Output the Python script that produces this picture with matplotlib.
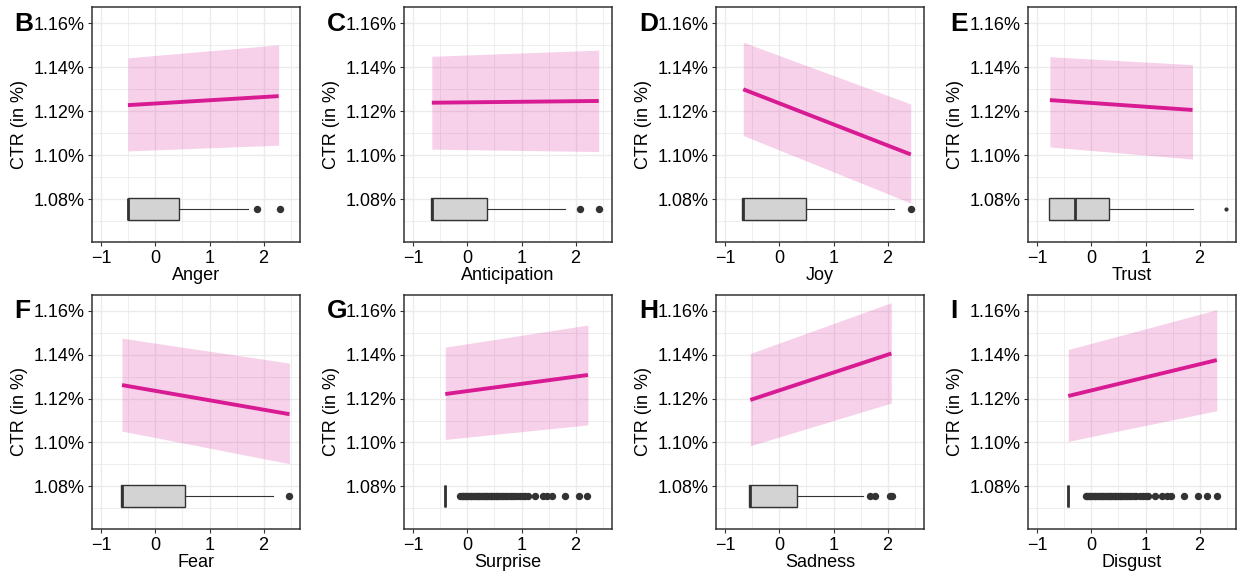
import matplotlib.pyplot as plt
from matplotlib.ticker import FuncFormatter, MultipleLocator

plt.rcParams['font.family'] = ['Liberation Sans', 'DejaVu Sans']

# panel letters and emotion names
letters = ["B", "C", "D", "E", "F", "G", "H", "I"]
emotions = ["Anger", "Anticipation", "Joy", "Trust", "Fear", "Surprise", "Sadness", "Disgust"]

# fitted line (CTR in %) at the two ends of each emotion's range
x_start = [-0.51, -0.66, -0.67, -0.77, -0.62, -0.41, -0.54, -0.43]
x_end = [2.28, 2.43, 2.43, 1.87, 2.48, 2.23, 2.07, 2.32]
fit_start = [1.1227, 1.1238, 1.1299, 1.1250, 1.1262, 1.1221, 1.1194, 1.1212]
fit_end = [1.1268, 1.1246, 1.1003, 1.1205, 1.1129, 1.1308, 1.1406, 1.1376]
ci_low_start = [1.1019, 1.1027, 1.1089, 1.1037, 1.1052, 1.1014, 1.0985, 1.1005]
ci_low_end = [1.1045, 1.1016, 1.0782, 1.0982, 1.0903, 1.1080, 1.1180, 1.1145]
ci_high_start = [1.1442, 1.1449, 1.1513, 1.1447, 1.1476, 1.1435, 1.1406, 1.1424]
ci_high_end = [1.1501, 1.1477, 1.1232, 1.1411, 1.1362, 1.1536, 1.1638, 1.1606]

# boxplot of each emotion score
whislo = [-0.51, -0.68, -0.70, -0.78, -0.64, -0.41, -0.56, -0.43]
q1 = [-0.51, -0.68, -0.70, -0.78, -0.64, -0.41, -0.56, -0.43]
med = [-0.51, -0.66, -0.67, -0.31, -0.62, -0.41, -0.55, -0.43]
q3 = [0.43, 0.37, 0.49, 0.33, 0.55, -0.41, 0.32, -0.43]
whishi = [1.72, 1.81, 2.12, 1.87, 2.17, -0.41, 1.54, -0.43]
fliers = [
    [1.88, 2.30],
    [2.09, 2.44],
    [2.43],
    [2.49],
    [2.48],
    [-0.14, -0.11, -0.08, -0.05, -0.02, 0.01, 0.04, 0.07, 0.10, 0.13, 0.16, 0.19,
     0.22, 0.25, 0.28, 0.31, 0.34, 0.37, 0.40, 0.43, 0.46, 0.49, 0.52, 0.55,
     0.58, 0.62, 0.66, 0.70, 0.74, 0.78, 0.82, 0.87, 0.92, 0.97, 1.02, 1.07,
     1.12, 1.25, 1.40, 1.48, 1.57, 1.80, 2.06, 2.22],
    [1.67, 1.77, 2.05, 2.09],
    [-0.11, -0.08, -0.05, -0.02, 0.01, 0.04, 0.07, 0.10, 0.13, 0.16, 0.19, 0.22,
     0.25, 0.28, 0.31, 0.34, 0.37, 0.40, 0.43, 0.46, 0.49, 0.52, 0.55, 0.58,
     0.62, 0.66, 0.70, 0.74, 0.78, 0.82, 0.90, 0.95, 1.00, 1.05, 1.18, 1.31,
     1.39, 1.47, 1.71, 1.97, 2.13, 2.32],
]
box_pos = 1.0755

pink = "#d81b93"
dark = "#333333"

fig = plt.figure(figsize=(12.41, 5.75), dpi=100)
W, H = 1241, 575
col_left = [92, 404, 716, 1028]
letter_x = [14, 327, 639, 950]
rows = [(7, 242), (295, 529)]
ax_w = 208

for i in range(8):
    r, c = divmod(i, 4)
    top, bot = rows[r]
    ax = fig.add_axes([col_left[c] / W, 1 - bot / H, ax_w / W, (bot - top) / H])

    ax.fill_between([x_start[i], x_end[i]], [ci_low_start[i], ci_low_end[i]],
                    [ci_high_start[i], ci_high_end[i]], color=pink, alpha=0.2,
                    linewidth=0, zorder=2)
    ax.plot([x_start[i], x_end[i]], [fit_start[i], fit_end[i]], color=pink,
            lw=2.8, solid_capstyle='butt', zorder=3)

    stats = [dict(whislo=whislo[i], q1=q1[i], med=med[i], q3=q3[i],
                  whishi=whishi[i], fliers=fliers[i])]
    ax.bxp(stats, positions=[box_pos], widths=0.01, orientation='horizontal',
           patch_artist=True, showcaps=False, manage_ticks=False,
           boxprops=dict(facecolor='#d3d3d3', edgecolor=dark, linewidth=1.0),
           medianprops=dict(color=dark, linewidth=2.0),
           whiskerprops=dict(color=dark, linewidth=0.8),
           flierprops=dict(marker='o', markerfacecolor=dark, markeredgecolor=dark,
                           markersize=4.3 if i != 3 else 2.0, linestyle='none'),
           zorder=3)

    ax.set_xlim(-1.175, 2.675)
    ax.set_ylim(1.0605, 1.1673)
    ax.xaxis.set_major_locator(MultipleLocator(1))
    ax.xaxis.set_minor_locator(MultipleLocator(0.5))
    ax.yaxis.set_major_locator(MultipleLocator(0.02))
    ax.yaxis.set_minor_locator(MultipleLocator(0.01))
    ax.yaxis.set_major_formatter(FuncFormatter(lambda v, p: f"{v:.2f}%"))
    ax.xaxis.set_major_formatter(FuncFormatter(lambda v, p: f"{v:.0f}".replace("-", "\u2212")))
    ax.grid(which='major', color='#ebebeb', lw=1.0, zorder=0)
    ax.grid(which='minor', color='#ebebeb', lw=0.6, zorder=0)
    ax.set_axisbelow(True)
    for s in ax.spines.values():
        s.set_color(dark)
        s.set_linewidth(1.1)
    ax.tick_params(which='major', length=3, width=0.8, color=dark, labelsize=13,
                   labelcolor='black', pad=2.5)
    ax.tick_params(which='minor', length=0)

    ax.set_xlabel(emotions[i], fontsize=13)
    ax.xaxis.set_label_coords(0.5, -0.105)
    ax.set_ylabel("CTR (in %)", fontsize=13)
    ax.yaxis.set_label_coords(-0.31, 0.5)

    fig.text(letter_x[c] / W, 1 - (31 + r * 287) / H, letters[i], fontsize=19,
             fontweight='bold', ha='left', va='baseline')

fig.savefig("out.png", dpi=100)
